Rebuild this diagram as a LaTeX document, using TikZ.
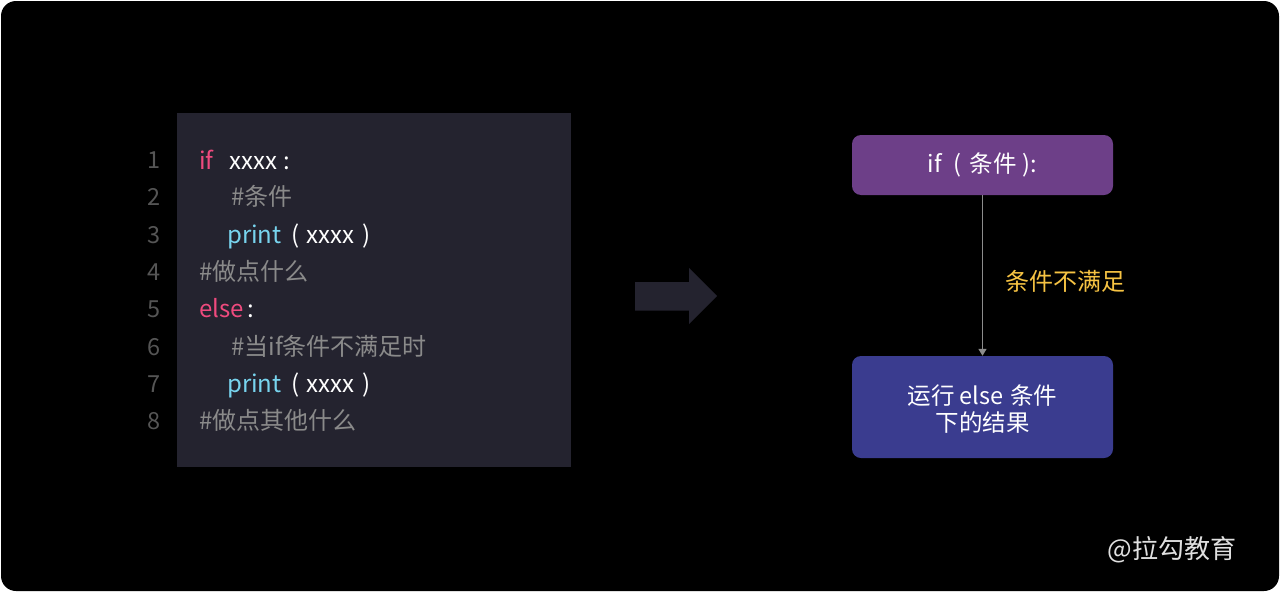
\documentclass[tikz,border=0pt]{standalone}
\usepackage{fontspec}
\setmainfont{Noto Sans CJK SC}
\usetikzlibrary{arrows.meta}
\definecolor{codebg}{HTML}{24232F}
\definecolor{kwpink}{HTML}{EF4A7E}
\definecolor{fncyan}{HTML}{78D4EE}
\definecolor{cmtgray}{HTML}{8A8A8A}
\definecolor{lngray}{HTML}{555555}
\definecolor{topbox}{HTML}{6D3F88}
\definecolor{botbox}{HTML}{3A3C8F}
\definecolor{lblyellow}{HTML}{F6C343}
\definecolor{conngray}{HTML}{8C8C8C}
\tikzset{
  code/.style={anchor=base west, inner sep=0pt, font=\fontsize{24pt}{28pt}\selectfont},
  lnum/.style={anchor=base, inner sep=0pt, text=lngray, font=\fontsize{23.5pt}{28pt}\selectfont},
  kw/.style={code, text=kwpink},
  fn/.style={code, text=fncyan},
  plain/.style={code, text=white},
  cmt/.style={code, text=cmtgray},
  flowbox/.style={draw=none, rounded corners=9pt, minimum width=261pt, text=white, align=center,
    font=\fontsize{23.5pt}{27pt}\selectfont},
  conn/.style={draw=conngray, line width=1.4pt, -{Triangle[width=8pt,length=7pt]}}
}
\begin{document}
\begin{tikzpicture}[x=1pt,y=-1pt]
\useasboundingbox (0,0) rectangle (1280,592);
\fill[white] (0,0) rectangle (1280,592);
\fill[black, rounded corners=15pt] (1,1) rectangle (1279,591);
% code panel
\fill[codebg] (177,113) rectangle (571,467);
% line numbers
\node[lnum] (n1) at (154,168.5) {1};
\node[lnum] (n2) at (154,205.5) {2};
\node[lnum] (n3) at (154,243) {3};
\node[lnum] (n4) at (154,280) {4};
\node[lnum] (n5) at (154,317.5) {5};
\node[lnum] (n6) at (154,355) {6};
\node[lnum] (n7) at (154,392.5) {7};
\node[lnum] (n8) at (154,429.5) {8};
% code lines
\node[kw] (c1a) at (199,169) {if};
\node[plain] (c1b) at (229,169) {xxxx\hspace{7pt}:};
\node[cmt] (c2) at (231,205) {\#条件};
\node[fn] (c3a) at (227,243) {print};
\node[plain] (c3b) at (291,243) {(\hspace{7pt}xxxx\hspace{8pt})};
\node[cmt] (c4) at (199,280) {\#做点什么};
\node[kw] (c5a) at (199,317) {else};
\node[plain] (c5b) at (247,317) {:};
\node[cmt] (c6) at (231,355) {\#当if条件不满足时};
\node[fn] (c7a) at (227,392) {print};
\node[plain] (c7b) at (291,392) {(\hspace{7pt}xxxx\hspace{8pt})};
\node[cmt] (c8) at (199,429) {\#做点其他什么};
% big arrow
\fill[codebg] (635,282) -- (689,282) -- (689,268) -- (717,296) -- (689,324) -- (689,310.5) -- (635,310.5) -- cycle;
% flow boxes
\node[flowbox, fill=topbox, minimum height=60pt] (top) at (982.5,165) {if\hspace{12pt}(\hspace{8pt}条件\hspace{6pt}):};
\node[flowbox, fill=botbox, minimum height=102pt] (bot) at (982.5,407) {};
\node[inner sep=0pt, text=white, align=center, font=\fontsize{23.5pt}{27pt}\selectfont] (bottxt) at (982.5,409) {运行\hspace{5pt}else\hspace{7pt}条件\\下的结果};
\draw[conn] (top.south) -- (bot.north);
\node[inner sep=0pt, text=lblyellow, font=\fontsize{24pt}{28pt}\selectfont] (lbl) at (1065,281) {条件不满足};
% watermark
\node[inner sep=0pt, text=white!88!black, font=\fontsize{26pt}{28pt}\selectfont] (wm) at (1172,550) {@拉勾教育};
\end{tikzpicture}
\end{document}
